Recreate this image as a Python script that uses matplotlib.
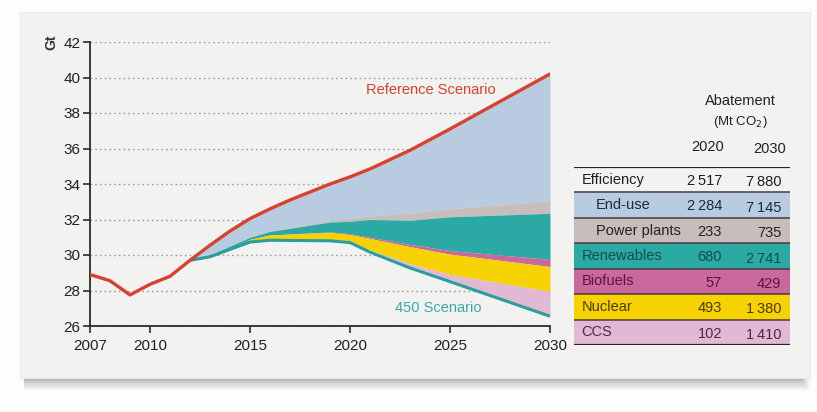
import numpy as np
import matplotlib
matplotlib.use("Agg")
import matplotlib.pyplot as plt
from matplotlib.patches import Rectangle

plt.rcParams['font.family'] = ['Liberation Sans Narrow', 'Liberation Sans', 'DejaVu Sans']

# ---------------- data ----------------
ref_years = [2007, 2008, 2009, 2010, 2011, 2012, 2013, 2014, 2015, 2016, 2017,
             2018, 2019, 2020, 2021, 2023, 2025, 2030]
ref_vals = [28.9, 28.55, 27.75, 28.35, 28.8, 29.7, 30.55, 31.35, 32.05, 32.6, 33.1,
            33.55, 34.0, 34.4, 34.85, 35.9, 37.1, 40.2]

wedge_years = [2012, 2013, 2015, 2016, 2019, 2020, 2021, 2023, 2025, 2030]
# abatement (Gt) relative to Reference Scenario
end_use = [0, 0.55, 1.05, 1.25, 2.05, 2.3, 2.65, 3.55, 4.5, 7.15]
power_plants = [0, 0, 0, 0.02, 0.1, 0.2, 0.2, 0.4, 0.45, 0.7]
renewables = [0, 0.1, 0.12, 0.2, 0.55, 0.7, 1.0, 1.35, 1.9, 2.6]
biofuels = [0, 0, 0, 0, 0.03, 0.05, 0.07, 0.13, 0.2, 0.4]
nuclear = [0, 0, 0.12, 0.2, 0.37, 0.35, 0.65, 0.95, 1.15, 1.4]
ccs = [0, 0, 0.03, 0.1, 0.1, 0.1, 0.12, 0.25, 0.4, 1.4]

x_ticks = [2007, 2010, 2015, 2020, 2025, 2030]
y_ticks = [26, 28, 30, 32, 34, 36, 38, 40, 42]

table_rows = ['Efficiency', 'End-use', 'Power plants', 'Renewables',
              'Biofuels', 'Nuclear', 'CCS']
table_2020 = ['2\u2009517', '2\u2009284', '233', '680', '57', '493', '102']
table_2030 = ['7\u2009880', '7\u2009145', '735', '2\u2009741', '429', '1\u2009380', '1\u2009410']
table_indent = [False, True, True, False, False, False, False]

# ---------------- style ----------------
C_REF = '#d8412c'
C_ENDUSE = '#b9cbe1'
C_POWER = '#c8bdbd'
C_RENEW = '#2aa9a5'
C_BIO = '#c9689c'
C_NUC = '#f6d200'
C_CCS = '#e2b9d5'
C_450 = '#2a9e9b'
C_CARD = '#f2f2f1'
row_fill = [None, C_ENDUSE, C_POWER, C_RENEW, C_BIO, C_NUC, C_CCS]
row_text = ['#1e1e1e', '#1e2a3a', '#2a2020', '#0c4f4c', '#5c1538', '#4a3a00', '#4a2a40']

W, H = 817, 412
fig = plt.figure(figsize=(W / 100, H / 100), dpi=100)
fig.patch.set_facecolor('#fdfdfd')

def px(x0, y0, x1, y1):
    """pixel box (left, top, right, bottom) -> figure fraction rect"""
    return [x0 / W, 1 - y1 / H, (x1 - x0) / W, (y1 - y0) / H]

# card + shadow
for i, a in enumerate([0.05, 0.07, 0.09, 0.12, 0.16]):
    off = 12 - i * 2.2
    fig.patches.append(Rectangle((24 / W, 1 - (378 + off) / H), (786 - 2 * i) / W,
                                 (366) / H, transform=fig.transFigure,
                                 facecolor='#606060', alpha=a, edgecolor='none', zorder=-3))
fig.patches.append(Rectangle((20 / W, 1 - 378 / H), 790 / W, 366 / H,
                             transform=fig.transFigure, facecolor=C_CARD,
                             edgecolor='#e6e6e6', lw=0.6, zorder=-2))

# ---------------- main chart ----------------
ax = fig.add_axes(px(90, 42, 550, 326))
ax.set_facecolor('none')
ax.set_xlim(2007, 2030)
ax.set_ylim(26, 42)

wy = np.array(wedge_years, dtype=float)
ref_lookup = dict(zip(ref_years, ref_vals))
top = np.array([ref_lookup[y] for y in wedge_years])
layers = [(end_use, C_ENDUSE), (power_plants, C_POWER), (renewables, C_RENEW),
          (biofuels, C_BIO), (nuclear, C_NUC), (ccs, C_CCS)]
cur = top.copy()
for vals, col in layers:
    nxt = cur - np.array(vals)
    ax.fill_between(wy, nxt, cur, color=col, lw=0, zorder=2)
    cur = nxt
ax.plot(wy, cur, color=C_450, lw=2.2, zorder=3, solid_capstyle='butt',
        solid_joinstyle='round')
ax.plot(ref_years, ref_vals, color=C_REF, lw=2.4, zorder=4, solid_joinstyle='round')

ax.set_yticks(y_ticks)
ax.set_xticks(x_ticks)
ax.yaxis.grid(True, linestyle=(0, (1.2, 2.2)), color='#9c9c9c', lw=1.0, zorder=1)
ax.set_axisbelow(True)
for s in ['top', 'right']:
    ax.spines[s].set_visible(False)
for s in ['left', 'bottom']:
    ax.spines[s].set_color('#2a2a2a')
    ax.spines[s].set_linewidth(1.3)
ax.tick_params(axis='both', direction='out', length=5, width=1.2, color='#2a2a2a',
               labelsize=11, labelcolor='#222222', pad=2)
ax.tick_params(axis='x', pad=4)

ax.text(-0.085, 1.0, 'Gt', transform=ax.transAxes, rotation=90, ha='center',
        va='center', fontsize=10, color='#333333', fontweight='bold')

ax.text(2024.05, 39.3, 'Reference Scenario', color=C_REF, fontsize=10.5,
        ha='center', va='center')
ax.text(2024.4, 27.0, '450 Scenario', color='#3aaaa8', fontsize=10.5,
        ha='center', va='center')

# ---------------- table ----------------
tx = fig.add_axes(px(574, 167, 790, 345))
tx.set_xlim(0, 1)
tx.set_ylim(len(table_rows), 0)
tx.axis('off')
idx = np.arange(len(table_rows))
fills = [c if c is not None else 'none' for c in row_fill]
tx.barh(idx + 0.5, [1] * len(idx), height=1.0, left=0, color=fills, lw=0, zorder=1)
for b in range(1, len(table_rows)):
    tx.axhline(b, color='#4d3a3a', lw=1.1, zorder=2)
tx.axhline(0, color='#2e2525', lw=1.6, zorder=2)
tx.axhline(len(table_rows), color='#2e2525', lw=1.6, zorder=2)

for i, name in enumerate(table_rows):
    xl = 0.10 if table_indent[i] else 0.035
    tx.text(xl, i + 0.5, name, ha='left', va='center', fontsize=10.5, color=row_text[i], zorder=3)
    tx.text(0.685, i + 0.55, table_2020[i], ha='right', va='center', fontsize=10.5,
            color=row_text[i], zorder=3)
    tx.text(0.96, i + 0.6, table_2030[i], ha='right', va='center', fontsize=10.5,
            color=row_text[i], zorder=3)

tx.text(0.77, -2.6, 'Abatement', ha='center', va='center', fontsize=10.5, color='#222222')
tx.text(0.77, -1.75, '(Mt CO$_2$)', ha='center', va='center', fontsize=9.5, color='#222222')
tx.text(0.62, -0.8, '2020', ha='center', va='center', fontsize=10.5, color='#222222')
tx.text(0.905, -0.72, '2030', ha='center', va='center', fontsize=10.5, color='#222222')

fig.savefig('out.png', dpi=100, facecolor=fig.get_facecolor())
